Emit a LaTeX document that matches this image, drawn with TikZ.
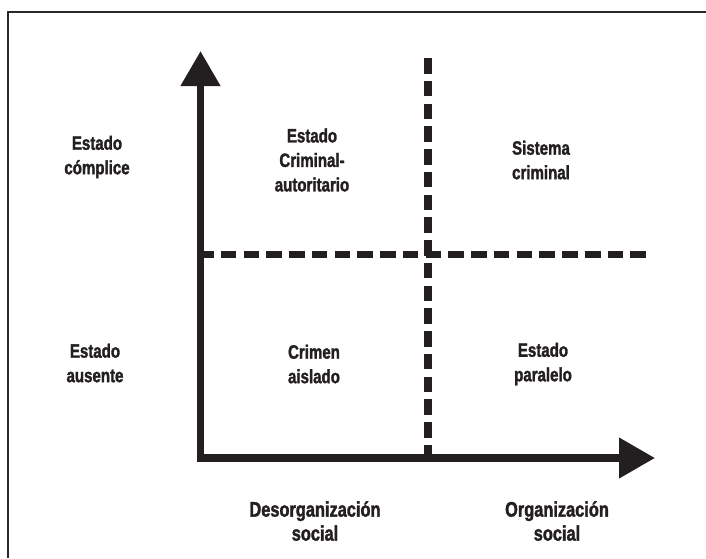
\documentclass[tikz,border=0pt]{standalone}
\usepackage{fontspec}
\newfontfamily\cfb{Liberation Sans}[UprightFont={* Bold},FakeStretch=0.78,FakeBold=1.6]
\usetikzlibrary{arrows.meta}
\definecolor{ink}{HTML}{231F20}
\definecolor{framec}{HTML}{2A2A2A}
\begin{document}
\begin{tikzpicture}[x=1pt,y=-1pt,
  lbl/.style={text=ink,font=\cfb\fontsize{19.3}{24.5}\selectfont,align=center,inner sep=0pt},
  axlbl/.style={text=ink,font=\cfb\fontsize{21}{24}\selectfont,align=center,inner sep=0pt},
  axisline/.style={draw=ink,line width=7.6pt,line join=miter,
    {Triangle[length=35pt,width=38pt]}-{Triangle[length=36pt,width=39pt]}},
  dashline/.style={draw=ink,line width=7.7pt,dash pattern=on 15.6pt off 7.16pt}]
\useasboundingbox (0,0) rectangle (706,558);
\fill[white] (0,0) rectangle (706,558);
% frame
\coordinate (FL) at (8,558);
\coordinate (FC) at (8,12);
\coordinate (FR) at (706,12);
\draw[framec,line width=2pt,line join=miter] (FL) -- (FC) -- (FR);
% axes
\coordinate (Ytop) at (200.5,51);
\coordinate (O) at (200.5,458);
\coordinate (Xend) at (655,458);
\draw[axisline] (Ytop) -- (O) -- (Xend);
% dashed dividers
\coordinate (VT) at (428,58);
\coordinate (VB) at (428,460.5);
\coordinate (HL) at (198,254.5);
\coordinate (HR) at (646,254.5);
\draw[dashline] (HL) -- (HR);
\draw[dashline] (VT) -- (VB);
% labels
\node[lbl] (cmp) at (97,157) {Estado\\cómplice};
\node[lbl] (aus) at (95,363) {Estado\\ausente};
\node[lbl] (eca) at (312,160) {Estado\\Criminal-\\autoritario};
\node[lbl] (sc) at (541,160) {Sistema\\criminal};
\node[lbl] (ca) at (314,364) {Crimen\\aislado};
\node[lbl] (ep) at (543,364) {Estado\\paralelo};
\node[axlbl] (ds) at (315,521) {Desorganización\\social};
\node[axlbl] (os) at (557,521) {Organización\\social};
\end{tikzpicture}
\end{document}
